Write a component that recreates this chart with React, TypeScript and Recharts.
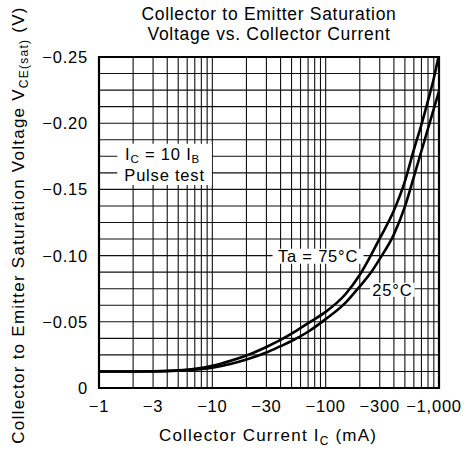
import React from "react";
import {
  LineChart,
  Line,
  XAxis,
  YAxis,
  CartesianGrid,
  ReferenceArea,
  Customized,
  Label,
} from "recharts";

// Collector current magnitude (mA) — axis shows negative values
const currents = [1, 2, 3, 5, 7, 10, 15, 20, 30, 40, 50, 70, 100, 150, 200, 250, 300, 400, 500, 600, 700, 800, 900, 1000];
// |VCE(sat)| (V) at Ta = 75°C
const vce75 = [0.0125, 0.0125, 0.0126, 0.0133, 0.0145, 0.0168, 0.021, 0.0245, 0.031, 0.0363, 0.041, 0.049, 0.0575, 0.071, 0.0855, 0.1, 0.113, 0.134, 0.156, 0.18, 0.199, 0.217, 0.234, 0.252];
// |VCE(sat)| (V) at Ta = 25°C
const vce25 = [0.0125, 0.0125, 0.0125, 0.013, 0.0138, 0.0153, 0.0185, 0.0215, 0.0268, 0.0316, 0.0355, 0.0425, 0.052, 0.0645, 0.0768, 0.087, 0.0975, 0.116, 0.137, 0.1595, 0.179, 0.196, 0.211, 0.224];

const xGridTicks = [1, 2, 3, 4, 5, 6, 7, 8, 9, 10, 20, 30, 40, 50, 60, 70, 80, 90, 100, 200, 300, 400, 500, 600, 700, 800, 900, 1000];
const xTickLabels: Record<string, string> = {
  "1": "−1",
  "3": "−3",
  "10": "−10",
  "30": "−30",
  "100": "−100",
  "300": "−300",
  "1000": "−1,000",
};
const yGridTicks = [0, 0.0125, 0.025, 0.0375, 0.05, 0.0625, 0.075, 0.0875, 0.1, 0.1125, 0.125, 0.1375, 0.15, 0.1625, 0.175, 0.1875, 0.2, 0.2125, 0.225, 0.2375, 0.25];
const yTickLabels: Record<string, string> = {
  "0": "0",
  "0.05": "−0.05",
  "0.1": "−0.10",
  "0.15": "−0.15",
  "0.2": "−0.20",
  "0.25": "−0.25",
};

const data = currents.map((c, i) => ({ ic: c, t75: vce75[i], t25: vce25[i] }));

const FONT = '"Liberation Sans", Arial, Helvetica, sans-serif';
const textStyle = { fontFamily: FONT, fill: "#000" } as const;

const XTick = (props: any) => {
  const { x, y, payload } = props;
  const label = xTickLabels[String(payload.value)];
  if (!label) return <g />;
  const shift = payload.value === 1000 ? -5 : 0;
  return (
    <text x={x + shift} y={y} dy="0.71em" textAnchor="middle" fontSize={16.5} letterSpacing={0.8} style={textStyle}>
      {label}
    </text>
  );
};

const YTick = (props: any) => {
  const { x, y, payload } = props;
  const label = yTickLabels[String(payload.value)];
  if (!label) return <g />;
  return (
    <text x={x} y={y} dy="0.36em" textAnchor="end" fontSize={16.5} letterSpacing={0.8} style={textStyle}>
      {label}
    </text>
  );
};

const XTitle = () => (
  <text x={268} y={441} textAnchor="middle" fontSize={17} letterSpacing={1.2} style={textStyle}>
    Collector Current  I
    <tspan fontSize={12} dy={4}>C</tspan>
    <tspan dy={-4}>{"  (mA)"}</tspan>
  </text>
);

const YTitle = () => (
  <text
    x={18}
    y={225}
    dy="0.36em"
    textAnchor="middle"
    fontSize={17}
    letterSpacing={1.25}
    transform="rotate(-90, 18, 225)"
    style={textStyle}
  >
    Collector to Emitter Saturation Voltage  V
    <tspan fontSize={12} dy={4}>CE(sat)</tspan>
    <tspan dy={-4}>{"  (V)"}</tspan>
  </text>
);

const Titles = () => (
  <g>
    <text x={269} y={20} textAnchor="middle" fontSize={17.5} letterSpacing={0.7} style={textStyle}>
      Collector to Emitter Saturation
    </text>
    <text x={269} y={40} textAnchor="middle" fontSize={17.5} letterSpacing={0.7} style={textStyle}>
      Voltage vs. Collector Current
    </text>
  </g>
);

const CondLabel = (props: any) => {
  const vb = props.viewBox || {};
  const cx = vb.x + vb.width / 2;
  return (
    <g>
      <text x={cx - 2} y={vb.y + 10} dy="0.36em" textAnchor="middle" fontSize={16.5} letterSpacing={0.8} style={textStyle}>
        I
        <tspan fontSize={11.5} dy={3}>C</tspan>
        <tspan dy={-3}>{" = 10 I"}</tspan>
        <tspan fontSize={11.5} dy={3}>B</tspan>
      </text>
      <text x={cx} y={vb.y + 31} dy="0.36em" textAnchor="middle" fontSize={16.5} letterSpacing={0.8} style={textStyle}>
        Pulse test
      </text>
    </g>
  );
};

const makeCenterLabel = (txt: string) => (props: any) => {
  const vb = props.viewBox || {};
  return (
    <text
      x={vb.x + vb.width / 2}
      y={vb.y + vb.height / 2}
      dy="0.36em"
      textAnchor="middle"
      fontSize={16.5}
      letterSpacing={0.8}
      style={textStyle}
    >
      {txt}
    </text>
  );
};

export default function App() {
  return (
    <div style={{ position: "absolute", left: 0, top: 0, background: "#fff" }}>
      <LineChart width={470} height={450} data={data} margin={{ top: 57, right: 31, bottom: 32, left: 0 }}>
        <CartesianGrid stroke="#111" strokeWidth={1.1} />
        <XAxis
          dataKey="ic"
          type="number"
          scale="log"
          domain={[1, 1000]}
          ticks={xGridTicks}
          interval={0}
          tick={(p: any) => <XTick {...p} />}
          tickLine={false}
          axisLine={false}
          tickMargin={6}
          height={30}
          allowDataOverflow
        >
          <Label content={XTitle} />
        </XAxis>
        <YAxis
          type="number"
          domain={[0, 0.25]}
          ticks={yGridTicks}
          interval={0}
          tick={(p: any) => <YTick {...p} />}
          tickLine={false}
          axisLine={false}
          tickMargin={5}
          width={99}
          allowDataOverflow
        >
          <Label content={YTitle} />
        </YAxis>
        <ReferenceArea x1={1.45} x2={9.9} y1={0.1534} y2={0.1844} fill="#fff" fillOpacity={1} stroke="none" label={CondLabel} />
        <ReferenceArea x1={34} x2={216} y1={0.0938} y2={0.1051} fill="#fff" fillOpacity={1} stroke="none" label={makeCenterLabel("Ta = 75°C")} />
        <ReferenceArea x1={246} x2={610} y1={0.069} y2={0.0795} fill="#fff" fillOpacity={1} stroke="none" label={makeCenterLabel("25°C")} />
        <ReferenceArea x1={1} x2={1000} y1={0} y2={0.25} fill="none" stroke="#000" strokeWidth={2.2} />
        <Line dataKey="t75" type="monotone" stroke="#000" strokeWidth={2.6} dot={false} isAnimationActive={false} />
        <Line dataKey="t25" type="monotone" stroke="#000" strokeWidth={2.6} dot={false} isAnimationActive={false} />
        <Customized component={Titles} />
      </LineChart>
    </div>
  );
}
